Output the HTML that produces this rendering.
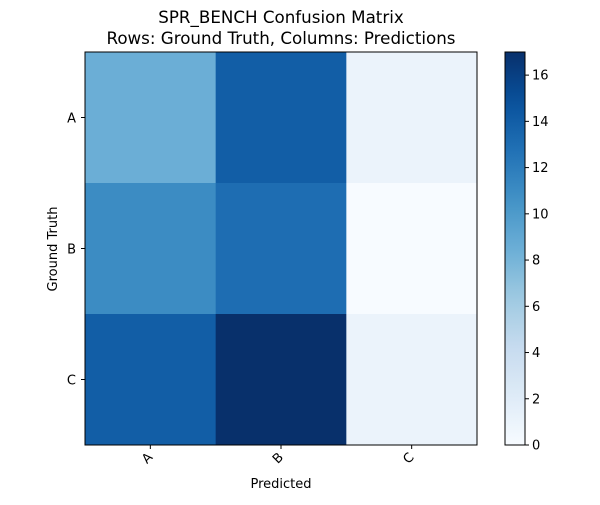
<!DOCTYPE html>
<html><head><meta charset="utf-8"><style>
body{margin:0;background:#fff;font-family:"Liberation Sans","DejaVu Sans",sans-serif;}
</style></head><body>
<svg id="chart" width="600" height="500" xmlns="http://www.w3.org/2000/svg" font-family="DejaVu Sans, Liberation Sans, sans-serif">
<text x="281" y="23" text-anchor="middle" font-size="16.7" fill="#000">SPR_BENCH Confusion Matrix</text>
<text x="281" y="44" text-anchor="middle" font-size="16.7" fill="#000">Rows: Ground Truth, Columns: Predictions</text>
<g id="cells"></g>
<g id="axes"></g>
<text x="281" y="488" text-anchor="middle" font-size="13">Predicted</text>
<text x="57" y="249" text-anchor="middle" font-size="13" transform="rotate(-90 57 249)">Ground Truth</text>
<defs><linearGradient id="cbgrad" x1="0" y1="1" x2="0" y2="0"></linearGradient></defs>
<g id="cbar"></g>
</svg>
<script>
const rowLabels = ["A","B","C"];
const colLabels = ["A","B","C"];
const values = [[8.5,14,1],[11,13,0],[14,17,1]];
const cbTicks = [0,2,4,6,8,10,12,14,16];
const vmin = 0, vmax = 17;

const NS="http://www.w3.org/2000/svg";
const svg=document.getElementById('chart');
const stops=["#f7fbff","#deebf7","#c6dbef","#9ecae1","#6baed6","#4292c6","#2171b5","#08519c","#08306b"];
function hex(c){return [1,3,5].map(i=>parseInt(c.substr(i,2),16));}
function cmap(t){t=Math.max(0,Math.min(1,t));const p=t*8,i=Math.min(7,Math.floor(p)),f=p-i;const a=hex(stops[i]),b=hex(stops[i+1]);return "rgb("+a.map((v,k)=>Math.round(v+(b[k]-v)*f)).join(",")+")";}
function mk(tag,attrs,parent){const e=document.createElementNS(NS,tag);for(const k in attrs)e.setAttribute(k,attrs[k]);parent.appendChild(e);return e;}

const X0=85,X1=477,Y0=52,Y1=445;
const cw=(X1-X0)/colLabels.length, ch=(Y1-Y0)/rowLabels.length;
const xPos=j=>X0+j*cw, yPos=i=>Y0+i*ch;
const cells=document.getElementById('cells');
values.forEach((row,i)=>row.forEach((v,j)=>{
  const r=mk('rect',{x:xPos(j),y:yPos(i),width:cw+0.5,height:ch+0.5,fill:cmap((v-vmin)/(vmax-vmin))},cells);
  
  
}));
const ax=document.getElementById('axes');
const fr=mk('rect',{x:X0,y:Y0,width:X1-X0,height:Y1-Y0,fill:'none',stroke:'#000','stroke-width':1},ax);


colLabels.forEach((l,j)=>{
  const cx=xPos(j)+cw/2;
  mk('line',{x1:cx,x2:cx,y1:Y1,y2:Y1+4,stroke:'#000'},ax);
  const t=mk('text',{x:cx+3,y:Y1+13,'font-size':13,'text-anchor':'end',transform:'rotate(-45 '+(cx+3)+' '+(Y1+13)+')'},ax);
  t.textContent=l;
  
  
});
rowLabels.forEach((l,i)=>{
  const cy=yPos(i)+ch/2;
  mk('line',{x1:X0-4,x2:X0,y1:cy,y2:cy,stroke:'#000'},ax);
  const t=mk('text',{x:X0-9,y:cy+5,'font-size':13,'text-anchor':'end'},ax);
  t.textContent=l;
  
  
});
const grad=document.getElementById('cbgrad');
for(let k=0;k<=20;k++){mk('stop',{offset:(k/20),'stop-color':cmap(k/20)},grad);}
const cb=document.getElementById('cbar');
const CX=505,CW=20;
const cyPos=v=>Y1-(v-vmin)/(vmax-vmin)*(Y1-Y0);
const cr=mk('rect',{x:CX,y:Y0,width:CW,height:Y1-Y0,fill:'url(#cbgrad)',stroke:'#000','stroke-width':1},cb);


cbTicks.forEach(v=>{
  const y=cyPos(v);
  mk('line',{x1:CX+CW,x2:CX+CW+4,y1:y,y2:y,stroke:'#000'},cb);
  const t=mk('text',{x:CX+CW+7,y:y+4.5,'font-size':13},cb);
  t.textContent=v;
  
  
});
</script>
</body></html>
